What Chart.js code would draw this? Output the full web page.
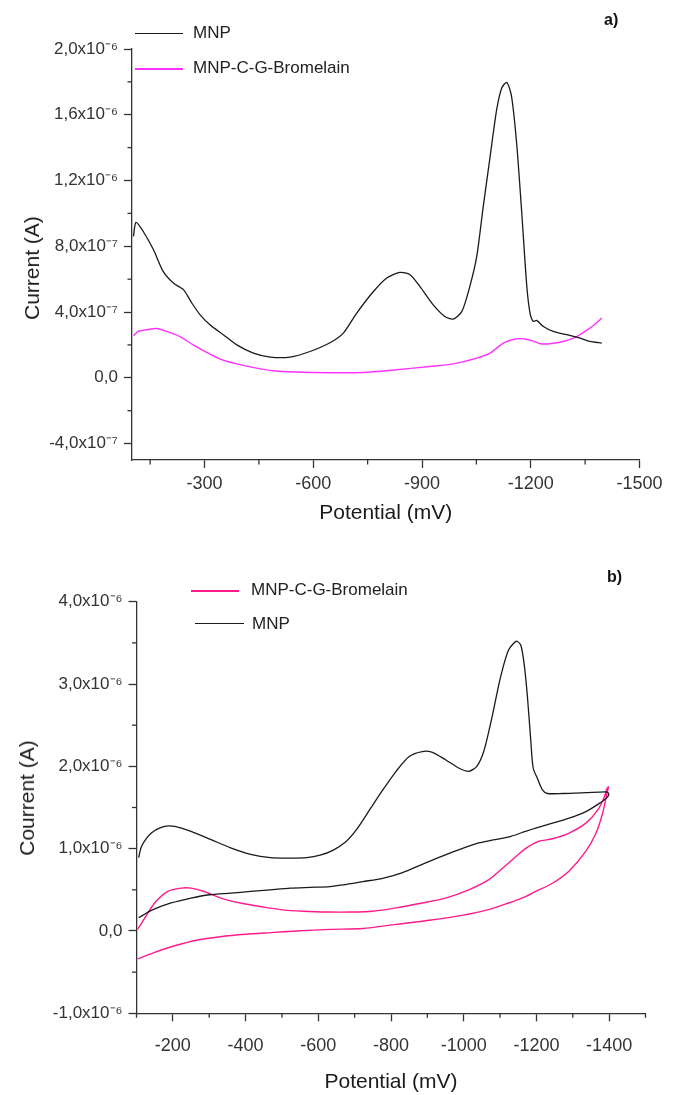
<!DOCTYPE html>
<html>
<head>
<meta charset="utf-8">
<script src="https://cdn.jsdelivr.net/npm/chart.js@4.4.1/dist/chart.umd.min.js"></script>
<style>
  body { margin: 0; background: #fff; font-family: "Liberation Sans", Arial, sans-serif; }
  #page { position: relative; width: 673px; height: 1095px; overflow: hidden; }
  canvas { position: absolute; left: 0; }
  .lbl { position: absolute; font-size: 17px; line-height: 20px; color: #222; white-space: nowrap; }
  .sw { position: absolute; height: 0; }
  .panel { position: absolute; font-size: 16px; font-weight: bold; line-height: 20px; color: #111; }
  .ytitle { position: absolute; font-size: 21px; line-height: 24px; color: #1a1a1a; white-space: nowrap;
            transform: translate(-50%, -50%) rotate(-90deg); }
</style>
</head>
<body>
<div id="page">
  <canvas id="chartA" width="673" height="526" style="top:0px;width:673px;height:526px"></canvas>
  <canvas id="chartB" width="673" height="550" style="top:545px;width:673px;height:550px"></canvas>

  <div class="sw" id="swA1" style="left:135px;top:33px;width:48px"></div>
  <div class="lbl" style="left:193px;top:23px">MNP</div>
  <div class="sw" id="swA2" style="left:135px;top:68px;width:48px"></div>
  <div class="lbl" style="left:193px;top:58px">MNP-C-G-Bromelain</div>
  <div class="panel" style="left:604px;top:10px">a)</div>
  <div class="ytitle" style="left:32px;top:268px">Current (A)</div>

  <div class="sw" id="swB1" style="left:191px;top:590px;width:48px"></div>
  <div class="lbl" style="left:251px;top:580px">MNP-C-G-Bromelain</div>
  <div class="sw" id="swB2" style="left:195px;top:623px;width:49px"></div>
  <div class="lbl" style="left:252px;top:614px">MNP</div>
  <div class="panel" style="left:607px;top:567px">b)</div>
  <div class="ytitle" style="left:27px;top:798px">Courrent (A)</div>
</div>

<script>
// ---- chart a) : single sweeps ----
const potA_mnp = [-104, -111, -131, -159, -186, -214, -242, -265, -288, -315, -352, -389, -435, -481, -536, -591,
  -646, -683, -720, -766, -803, -839, -867, -894, -931, -963, -986, -1010, -1032, -1051, -1069, -1088, -1106,
  -1120, -1134, -1147, -1161, -1175, -1189, -1198, -1207, -1216, -1235, -1262, -1299, -1336, -1363, -1396];
const curA_mnp = [8.6e-7, 9.45e-7, 8.9e-7, 7.8e-7, 6.47e-7, 5.76e-7, 5.36e-7, 4.55e-7, 3.83e-7, 3.23e-7, 2.62e-7,
  2.0e-7, 1.5e-7, 1.26e-7, 1.26e-7, 1.6e-7, 2.13e-7, 2.72e-7, 3.94e-7, 5.25e-7, 6.07e-7, 6.41e-7, 6.27e-7,
  5.56e-7, 4.44e-7, 3.73e-7, 3.57e-7, 4.04e-7, 5.56e-7, 7.38e-7, 10.43e-7, 13.47e-7, 16.31e-7, 17.63e-7,
  17.97e-7, 17.12e-7, 14.28e-7, 10.1e-7, 5.6e-7, 3.94e-7, 3.43e-7, 3.49e-7, 3.12e-7, 2.82e-7, 2.62e-7,
  2.42e-7, 2.21e-7, 2.11e-7];

const potA_brom = [-104, -117, -140, -168, -196, -232, -269, -306, -343, -389, -444, -490, -554, -646, -738, -830,
  -922, -986, -1051, -1088, -1124, -1157, -1185, -1210, -1226, -1253, -1290, -1327, -1363, -1386, -1396];
const curA_brom = [2.56e-7, 2.82e-7, 2.92e-7, 3.0e-7, 2.82e-7, 2.51e-7, 2.0e-7, 1.54e-7, 1.14e-7, 0.85e-7,
  0.59e-7, 0.43e-7, 0.35e-7, 0.31e-7, 0.32e-7, 0.49e-7, 0.69e-7, 0.85e-7, 1.2e-7, 1.5e-7, 2.11e-7, 2.36e-7,
  2.36e-7, 2.2e-7, 2.07e-7, 2.07e-7, 2.21e-7, 2.51e-7, 3.02e-7, 3.43e-7, 3.63e-7];

const xTicksA = [-300, -600, -900, -1200, -1500];
const xLabelsA = ['-300', '-600', '-900', '-1200', '-1500'];
const xMinorA = [-150, -450, -750, -1050, -1350];
const yTicksA = [-4e-7, 0, 4e-7, 8e-7, 1.2e-6, 1.6e-6, 2e-6];
const yLabelsA = ['-4,0x10⁻⁷', '0,0', '4,0x10⁻⁷', '8,0x10⁻⁷', '1,2x10⁻⁶', '1,6x10⁻⁶', '2,0x10⁻⁶'];
const yMinorA = [-2e-7, 2e-7, 6e-7, 1e-6, 1.4e-6, 1.8e-6];

// ---- chart b) : cyclic voltammograms (two branches each) ----
const potB_mnpUp = [-106, -114, -141, -177, -205, -250, -305, -359, -414, -468, -523, -568, -605, -640, -675,
  -705, -741, -777, -814, -850, -886, -914, -950, -986, -1014, -1036, -1055, -1077, -1100, -1123, -1145,
  -1157, -1166, -1175, -1184, -1191, -1203, -1217, -1230, -1272, -1336, -1392, -1399];
const curB_mnpUp = [0.89e-6, 1.03e-6, 1.19e-6, 1.27e-6, 1.27e-6, 1.21e-6, 1.11e-6, 1.01e-6, 0.93e-6, 0.89e-6,
  0.885e-6, 0.89e-6, 0.92e-6, 0.98e-6, 1.08e-6, 1.23e-6, 1.47e-6, 1.71e-6, 1.94e-6, 2.12e-6, 2.18e-6, 2.17e-6,
  2.08e-6, 1.98e-6, 1.94e-6, 2.0e-6, 2.18e-6, 2.58e-6, 3.06e-6, 3.41e-6, 3.52e-6, 3.47e-6, 3.25e-6, 2.86e-6,
  2.34e-6, 1.98e-6, 1.85e-6, 1.71e-6, 1.67e-6, 1.67e-6, 1.68e-6, 1.69e-6, 1.67e-6];
const potB_mnpLow = [-1394, -1373, -1336, -1290, -1244, -1198, -1170, -1130, -1086, -1041, -995, -941, -886,
  -832, -777, -723, -668, -632, -577, -523, -468, -414, -359, -300, -250, -195, -141, -106];
const curB_mnpLow = [1.62e-6, 1.55e-6, 1.45e-6, 1.37e-6, 1.31e-6, 1.25e-6, 1.21e-6, 1.15e-6, 1.11e-6, 1.07e-6,
  1.0e-6, 0.91e-6, 0.81e-6, 0.71e-6, 0.64e-6, 0.60e-6, 0.56e-6, 0.54e-6, 0.53e-6, 0.52e-6, 0.50e-6, 0.48e-6,
  0.46e-6, 0.44e-6, 0.40e-6, 0.34e-6, 0.25e-6, 0.16e-6];

const potB_bromLow = [-103, -150, -205, -268, -330, -400, -470, -541, -632, -723, -814, -905, -995, -1068,
  -1123, -1160, -1198, -1244, -1290, -1336, -1364, -1382, -1394, -1398];
const curB_bromLow = [-0.34e-6, -0.26e-6, -0.18e-6, -0.11e-6, -0.07e-6, -0.04e-6, -0.02e-6, 0.0, 0.02e-6,
  0.03e-6, 0.08e-6, 0.13e-6, 0.19e-6, 0.26e-6, 0.34e-6, 0.40e-6, 0.48e-6, 0.58e-6, 0.73e-6, 0.97e-6, 1.19e-6,
  1.43e-6, 1.67e-6, 1.75e-6];
const potB_bromUp = [-1394, -1387, -1369, -1336, -1290, -1244, -1207, -1180, -1150, -1114, -1068, -1014, -950,
  -886, -814, -750, -686, -632, -559, -495, -450, -386, -332, -286, -250, -223, -186, -150, -123, -103];
const curB_bromUp = [1.73e-6, 1.63e-6, 1.47e-6, 1.31e-6, 1.19e-6, 1.12e-6, 1.09e-6, 1.03e-6, 0.93e-6, 0.79e-6,
  0.62e-6, 0.50e-6, 0.40e-6, 0.34e-6, 0.28e-6, 0.24e-6, 0.23e-6, 0.23e-6, 0.24e-6, 0.26e-6, 0.29e-6, 0.34e-6,
  0.40e-6, 0.48e-6, 0.52e-6, 0.52e-6, 0.48e-6, 0.34e-6, 0.16e-6, 0.02e-6];

const xTicksB = [-200, -400, -600, -800, -1000, -1200, -1400];
const xLabelsB = ['-200', '-400', '-600', '-800', '-1000', '-1200', '-1400'];
const xMinorB = [-100, -300, -500, -700, -900, -1100, -1300, -1500];
const yTicksB = [-1e-6, 0, 1e-6, 2e-6, 3e-6, 4e-6];
const yLabelsB = ['-1,0x10⁻⁶', '0,0', '1,0x10⁻⁶', '2,0x10⁻⁶', '3,0x10⁻⁶', '4,0x10⁻⁶'];
const yMinorB = [-5e-7, 5e-7, 1.5e-6, 2.5e-6, 3.5e-6];

const BLACK = '#1a1a1a';
const MAGENTA_A = '#ff33ff';
const PINK_B = '#ff1a8c';
const AXIS = '#333';

Chart.defaults.font.family = '"Liberation Sans", Arial, sans-serif';
Chart.defaults.color = '#333';

function pts(xs, ys) {
  return xs.map((x, i) => ({ x: x, y: ys[i] }));
}

// short minor ticks, placed through the scales
const minorTicks = {
  id: 'minorTicks',
  afterDraw(chart, args, opts) {
    const ctx = chart.ctx;
    const xs = chart.scales.x, ys = chart.scales.y;
    ctx.save();
    ctx.strokeStyle = AXIS;
    ctx.lineWidth = 1.3;
    opts.x.forEach(v => {
      const px = xs.getPixelForValue(v);
      ctx.beginPath(); ctx.moveTo(px, xs.top); ctx.lineTo(px, xs.top + 4.5); ctx.stroke();
    });
    opts.y.forEach(v => {
      const py = ys.getPixelForValue(v);
      ctx.beginPath(); ctx.moveTo(ys.right, py); ctx.lineTo(ys.right - 4.5, py); ctx.stroke();
    });
    ctx.restore();
  }
};

function makeChart(id, datasets, cfg) {
  return new Chart(document.getElementById(id), {
    type: 'scatter',
    data: { datasets: datasets },
    options: {
      responsive: false,
      animation: false,
      devicePixelRatio: 1,
      layout: { padding: cfg.padding },
      elements: { point: { radius: 0 } },
      plugins: {
        legend: { display: false },
        tooltip: { enabled: false },
        minorTicks: { x: cfg.xMinor, y: cfg.yMinor }
      },
      scales: {
        x: {
          type: 'linear',
          min: -1500,
          max: -100,
          reverse: true,
          afterBuildTicks: s => { s.ticks = cfg.xTicks.map(v => ({ value: v })); },
          afterFit: s => { s.height = cfg.xHeight; },
          border: { display: true, color: AXIS, width: 1.3 },
          grid: { drawOnChartArea: false, drawTicks: true, tickLength: 8, tickColor: AXIS, tickWidth: 1.3 },
          ticks: {
            autoSkip: false, maxRotation: 0, padding: cfg.xPad, color: '#333',
            font: { size: 18 },
            callback: (v, i) => cfg.xLabels[i]
          },
          title: {
            display: true, text: 'Potential (mV)', color: BLACK, padding: 0,
            font: { size: 21, lineHeight: 1.2 }
          }
        },
        y: {
          type: 'linear',
          min: cfg.yMin,
          max: cfg.yMax,
          afterBuildTicks: s => { s.ticks = cfg.yTicks.map(v => ({ value: v })); },
          afterFit: s => { s.width = cfg.yWidth; },
          border: { display: true, color: AXIS, width: 1.3 },
          grid: { drawOnChartArea: false, drawTicks: true, tickLength: 8, tickColor: AXIS, tickWidth: 1.3 },
          ticks: {
            autoSkip: false, padding: 6, color: '#333',
            font: { size: 17 },
            callback: (v, i) => cfg.yLabels[i]
          }
        }
      }
    },
    plugins: [minorTicks]
  });
}

makeChart('chartA', [
  { label: 'MNP', data: pts(potA_mnp, curA_mnp), showLine: true, borderColor: BLACK, borderWidth: 1.3, tension: 0.25 },
  { label: 'MNP-C-G-Bromelain', data: pts(potA_brom, curA_brom), showLine: true, borderColor: MAGENTA_A, borderWidth: 1.4, tension: 0.25 }
], {
  padding: { top: 49, right: 33.5, bottom: 0, left: 0 },
  xHeight: 66, yWidth: 132, xPad: 5,
  yMin: -5e-7, yMax: 2e-6,
  xTicks: xTicksA, xLabels: xLabelsA, xMinor: xMinorA,
  yTicks: yTicksA, yLabels: yLabelsA, yMinor: yMinorA
});

makeChart('chartB', [
  { label: 'MNP', data: pts(potB_mnpUp, curB_mnpUp).concat(pts(potB_mnpLow, curB_mnpLow)), showLine: true,
    borderColor: BLACK, borderWidth: 1.3, tension: 0.25 },
  { label: 'MNP-C-G-Bromelain', data: pts(potB_bromLow, curB_bromLow).concat(pts(potB_bromUp, curB_bromUp)), showLine: true,
    borderColor: PINK_B, borderWidth: 1.4, tension: 0.25 }
], {
  padding: { top: 56.7, right: 27.5, bottom: 0, left: 0 },
  xHeight: 81.7, yWidth: 136.5, xPad: 14,
  yMin: -1e-6, yMax: 4e-6,
  xTicks: xTicksB, xLabels: xLabelsB, xMinor: xMinorB,
  yTicks: yTicksB, yLabels: yLabelsB, yMinor: yMinorB
});

// legend swatches take the dataset colours
document.getElementById('swA1').style.borderTop = '1.5px solid ' + BLACK;
document.getElementById('swA2').style.borderTop = '2px solid ' + MAGENTA_A;
document.getElementById('swB1').style.borderTop = '2px solid ' + PINK_B;
document.getElementById('swB2').style.borderTop = '1.5px solid ' + BLACK;
</script>
</body>
</html>
